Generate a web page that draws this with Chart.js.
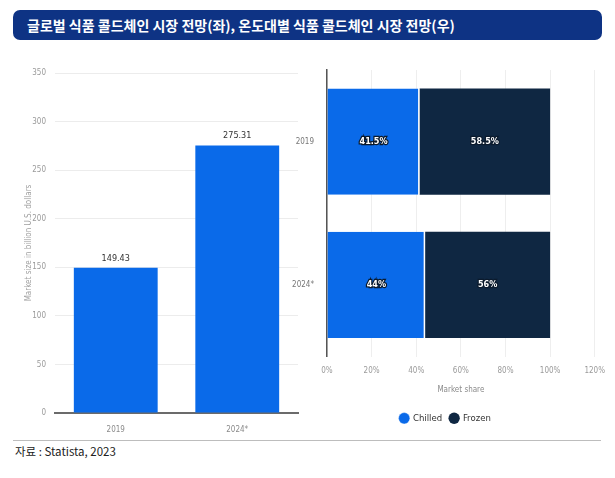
<!DOCTYPE html>
<html>
<head>
<meta charset="utf-8">
<script src="https://cdn.jsdelivr.net/npm/chart.js@4"></script>
<style>
  body { margin: 0; background: #fff; width: 615px; height: 478px; position: relative; overflow: hidden; }
  #title {
    position: absolute; left: 13px; top: 10px; width: 589px; height: 30px;
    background: #0e3384; border-radius: 7px; color: #fff;
    font: bold 14px "Noto Sans CJK KR", sans-serif; line-height: 30px;
    padding-left: 14px; box-sizing: border-box;
  }
  #left { position: absolute; left: 15px; top: 55px; }
  #right { position: absolute; left: 285px; top: 55px; }
  #rule { position: absolute; left: 13px; top: 440px; width: 588px; height: 1px; background: #bdbdbd; }
  #source { position: absolute; left: 15px; top: 443px; font: 11.5px "Noto Sans CJK KR", sans-serif; color: #222; }
</style>
</head>
<body>
<div id="title">글로벌 식품 콜드체인 시장 전망(좌), 온도대별 식품 콜드체인 시장 전망(우)</div>
<canvas id="left" width="290" height="385"></canvas>
<canvas id="right" width="330" height="385"></canvas>
<div id="rule"></div>
<div id="source">자료 : Statista, 2023</div>
<script>
const years = ['2019', '2024*'];
const marketSize = [149.43, 275.31];
const chilledShare = [41.5, 44];
const frozenShare = [58.5, 56];

const narrow = '"Liberation Sans Narrow", "DejaVu Sans Condensed", sans-serif';
const blue = '#0a6ae9';
const navy = '#0f2742';

// draws value labels on bars
const valueLabels = {
    id: 'valueLabels',
    afterDatasetsDraw(chart, args, opts) {
        const ctx = chart.ctx;
        ctx.save();
        chart.data.datasets.forEach((ds, i) => {
            chart.getDatasetMeta(i).data.forEach((bar, j) => {
                const v = ds.data[j];
                if (opts.inside) {
                    const x = (bar.x + bar.base) / 2;
                    ctx.font = 'bold 9px ' + narrow;
                    ctx.textAlign = 'center';
                    ctx.textBaseline = 'middle';
                    ctx.lineWidth = 2.5;
                    ctx.strokeStyle = '#0b1a2c';
                    ctx.strokeText(v + '%', x, bar.y);
                    ctx.fillStyle = '#fff';
                    ctx.fillText(v + '%', x, bar.y);
                } else {
                    ctx.font = '9px ' + narrow;
                    ctx.textAlign = 'center';
                    ctx.textBaseline = 'bottom';
                    ctx.fillStyle = '#333';
                    ctx.fillText(v.toFixed(2), bar.x, bar.y - 5);
                }
            });
        });
        ctx.restore();
    }
};

new Chart(document.getElementById('left'), {
    type: 'bar',
    data: {
        labels: years,
        datasets: [{
            data: marketSize,
            backgroundColor: blue,
            barPercentage: 0.69,
            categoryPercentage: 1
        }]
    },
    plugins: [valueLabels],
    options: {
        responsive: false,
        animation: false,
        layout: { padding: { top: 18, right: 7, left: 9 } },
        plugins: { legend: { display: false }, tooltip: { enabled: false }, valueLabels: { inside: false } },
        scales: {
            x: {
                grid: { display: false },
                border: { color: '#6b6b6b', width: 2 },
                ticks: { color: '#8a8a8a', font: { size: 8, family: narrow }, padding: 4 },
                afterFit: s => { s.height = 27; }
            },
            y: {
                min: 0, max: 350,
                ticks: { stepSize: 50, color: '#9a9a9a', font: { size: 8, family: narrow }, padding: 9 },
                grid: { color: '#ececec', drawTicks: false },
                border: { display: false },
                title: { display: true, text: 'Market size in billion U.S. dollars', color: '#a0a0a0', font: { size: 8, family: narrow }, padding: 0 },
                afterFit: s => { s.width = 31; }
            }
        }
    }
});

new Chart(document.getElementById('right'), {
    type: 'bar',
    data: {
        labels: years,
        datasets: [{
            label: 'Chilled',
            data: chilledShare,
            backgroundColor: blue,
            borderColor: '#ffffff',
            borderWidth: { right: 1.5 },
            borderSkipped: false,
            barPercentage: 0.74,
            categoryPercentage: 1
        }, {
            label: 'Frozen',
            data: frozenShare,
            backgroundColor: navy,
            barPercentage: 0.74,
            categoryPercentage: 1
        }]
    },
    plugins: [valueLabels],
    options: {
        indexAxis: 'y',
        responsive: false,
        animation: false,
        layout: { padding: { top: 15, right: 9, bottom: 7 } },
        plugins: {
            tooltip: { enabled: false },
            valueLabels: { inside: true },
            legend: {
                position: 'bottom',
                labels: {
                    usePointStyle: true, pointStyle: 'circle', boxWidth: 8, boxHeight: 8,
                    color: '#333', font: { size: 9.5, family: narrow }, padding: 8
                }
            }
        },
        scales: {
            x: {
                stacked: true, min: 0, max: 120,
                ticks: { stepSize: 20, callback: v => v + '%', color: '#9a9a9a', font: { size: 8, family: narrow }, padding: 10 },
                grid: { color: '#eeeeee', drawTicks: false },
                border: { display: false },
                title: { display: true, text: 'Market share', color: '#8a8a8a', font: { size: 8, family: narrow }, padding: { top: 4, bottom: 11 } },
                afterFit: s => { s.height = 49; }
            },
            y: {
                stacked: true,
                grid: { display: false },
                border: { color: '#555', width: 1.5 },
                ticks: { color: '#777', font: { size: 8, family: narrow }, padding: 5 },
                afterFit: s => { s.width = 42; }
            }
        }
    }
});
</script>
</body>
</html>
